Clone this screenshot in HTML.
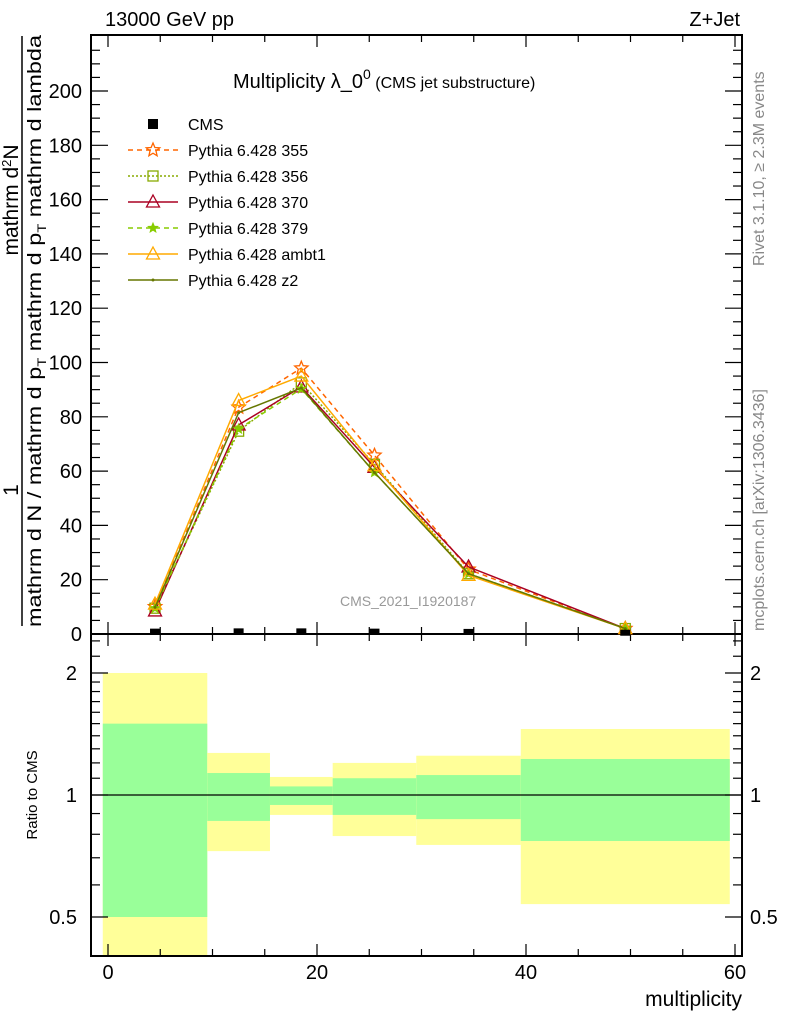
<!DOCTYPE html>
<html><head><meta charset="utf-8"><style>
body{margin:0;background:#fff;}
svg{display:block;font-family:"Liberation Sans",sans-serif;}
</style></head><body>
<svg id="chart" width="786" height="1024" viewBox="0 0 786 1024">
<g id="bands"></g>
<g id="axes"></g>
<g id="series"></g>
<text x="105" y="26" font-size="20">13000 GeV pp</text>
<text x="740" y="26" font-size="20" text-anchor="end">Z+Jet</text>
<text x="233" y="88" font-size="20">Multiplicity λ_0<tspan dy="-9" font-size="14">0</tspan><tspan dy="9" font-size="16"> (CMS jet substructure)</tspan></text>
<text x="340" y="606" font-size="14" fill="#999">CMS_2021_I1920187</text>
<text transform="translate(764,266) rotate(-90)" font-size="16" fill="#888">Rivet 3.1.10, ≥ 2.3M events</text>
<text transform="translate(764,631) rotate(-90)" font-size="16" fill="#888">mcplots.cern.ch [arXiv:1306.3436]</text>
<g font-size="19">
<text transform="translate(18,200) rotate(-90)" text-anchor="middle" font-size="21">mathrm d<tspan dy="-7" font-size="13">2</tspan><tspan dy="7">N</tspan></text>
<text transform="translate(18,490) rotate(-90)" text-anchor="middle" font-size="21">1</text>
<line x1="22" y1="36" x2="22" y2="626" stroke="#000" stroke-width="1.5"/>
<text transform="translate(41,627) rotate(-90)" textLength="592" lengthAdjust="spacingAndGlyphs">mathrm d N / mathrm d p<tspan dy="5" font-size="12">T</tspan><tspan dy="-5"> mathrm d p</tspan><tspan dy="5" font-size="12">T</tspan><tspan dy="-5"> mathrm d lambda</tspan></text>
</g>
<text transform="translate(37,795) rotate(-90)" font-size="15" text-anchor="middle">Ratio to CMS</text>
<text x="742" y="1006" font-size="21" text-anchor="end">multiplicity</text>
<g id="legend"></g>
</svg>
<script>
const categories = [4.5, 12.5, 18.5, 25.5, 34.5, 49.5];
const cmsValues = [0.5, 0.6, 0.6, 0.5, 0.4, 0.1];
const p355 = [10, 83.5, 97.9, 65.8, 23.8, 2];
const p356 = [9.5, 74.7, 92.5, 62.5, 22.2, 2];
const p370 = [8.5, 77, 91, 61.4, 24.7, 2];
const p379 = [9.5, 75.5, 90.3, 59.5, 22.2, 2];
const pambt1 = [11, 86, 95, 62, 21.6, 2];
const pz2 = [9.8, 81.5, 90.6, 59.5, 22.2, 2];
const binEdges = [-0.5, 9.5, 15.5, 21.5, 29.5, 39.5, 59.5];
const yellowHi = [2.0, 1.27, 1.108, 1.2, 1.25, 1.455];
const yellowLo = [0.35, 0.727, 0.893, 0.792, 0.753, 0.538];
const greenHi = [1.5, 1.133, 1.05, 1.10, 1.12, 1.227];
const greenLo = [0.5, 0.863, 0.945, 0.893, 0.872, 0.77];
const yTicks = [0, 20, 40, 60, 80, 100, 120, 140, 160, 180, 200];
const xTicks = [0, 20, 40, 60];
const rTicks = [0.5, 1, 2];

const NS = "http://www.w3.org/2000/svg";
const L = 91, R = 742, T = 35, B = 634, RT = 634, RB = 956;
const X = v => 108 + v * 10.45;
const Y = v => 634 - v * 2.715;
const RY = v => 795 - Math.log2(v) * 122;
function el(tag, attrs, parent) {
  const e = document.createElementNS(NS, tag);
  for (const k in attrs) e.setAttribute(k, attrs[k]);
  parent.appendChild(e); return e;
}
const axes = document.getElementById('axes');
const bands = document.getElementById('bands');
const series = document.getElementById('series');
const legend = document.getElementById('legend');

for (let i = 0; i < yellowHi.length; i++) {
  const x1 = X(binEdges[i]), x2 = X(binEdges[i + 1]);
  const yt = Math.max(RT, RY(yellowHi[i])), yb = Math.min(RB, RY(yellowLo[i]));
  const y = el('rect', {x: x1, y: yt, width: x2 - x1, height: yb - yt, fill: '#ffff99'}, bands);
  
  
  const gt = RY(greenHi[i]), gb = RY(greenLo[i]);
  const g = el('rect', {x: x1, y: gt, width: x2 - x1, height: gb - gt, fill: '#99ff99'}, bands);
  
  
}
const one = el('line', {x1: L, x2: R, y1: RY(1), y2: RY(1), stroke: '#000', 'stroke-width': 1.2}, bands);



for (const [t, b, n] of [[T, B, 'main-frame'], [RT, RB, 'ratio-frame']]) {
  const f = el('rect', {x: L, y: t, width: R - L, height: b - t, fill: 'none', stroke: '#000', 'stroke-width': 2}, axes);
  
  
}
for (let v = 0; v <= 60; v += 5) {
  const major = v % 20 === 0, len = major ? 12 : 7;
  for (const [t, b] of [[T, B], [RT, RB]]) {
    el('line', {x1: X(v), x2: X(v), y1: b, y2: b - len, stroke: '#000', 'stroke-width': 1.2}, axes);
    el('line', {x1: X(v), x2: X(v), y1: t, y2: t + len, stroke: '#000', 'stroke-width': 1.2}, axes);
  }
}
xTicks.forEach(v => {
  const t = el('text', {x: X(v), y: 979, 'font-size': 20, 'text-anchor': 'middle'}, axes);
  t.textContent = v;
  
  
});
for (let v = 0; v <= 215; v += 5) {
  const major = v % 20 === 0, len = major ? 17 : 9;
  el('line', {x1: L, x2: L + len, y1: Y(v), y2: Y(v), stroke: '#000', 'stroke-width': 1.2}, axes);
  el('line', {x1: R, x2: R - len, y1: Y(v), y2: Y(v), stroke: '#000', 'stroke-width': 1.2}, axes);
}
yTicks.forEach(v => {
  const t = el('text', {x: 82, y: Y(v) + 7, 'font-size': 20, 'text-anchor': 'end'}, axes);
  t.textContent = v;
  
  
});
const rMinor = [0.4, 0.6, 0.7, 0.8, 0.9, 1.1, 1.2, 1.3, 1.4, 1.5, 1.6, 1.7, 1.8, 1.9, 2.2, 2.4];
rMinor.forEach(v => {
  el('line', {x1: L, x2: L + 9, y1: RY(v), y2: RY(v), stroke: '#000', 'stroke-width': 1.2}, axes);
  el('line', {x1: R, x2: R - 9, y1: RY(v), y2: RY(v), stroke: '#000', 'stroke-width': 1.2}, axes);
});
rTicks.forEach(v => {
  el('line', {x1: L, x2: L + 17, y1: RY(v), y2: RY(v), stroke: '#000', 'stroke-width': 1.2}, axes);
  el('line', {x1: R, x2: R - 17, y1: RY(v), y2: RY(v), stroke: '#000', 'stroke-width': 1.2}, axes);
  const t = el('text', {x: 77, y: RY(v) + 7, 'font-size': 20, 'text-anchor': 'end'}, axes);
  t.textContent = v;
  
  
  const t2 = el('text', {x: 750, y: RY(v) + 7, 'font-size': 20}, axes);
  t2.textContent = v;
  
  
});

function star(cx, cy, r, color, fill, parent) {
  let p = '';
  for (let i = 0; i < 10; i++) {
    const a = -Math.PI / 2 + i * Math.PI / 5, rr = i % 2 ? r * 0.45 : r;
    p += (i ? 'L' : 'M') + (cx + rr * Math.cos(a)).toFixed(1) + ' ' + (cy + rr * Math.sin(a)).toFixed(1);
  }
  return el('path', {d: p + 'Z', fill: fill, stroke: color, 'stroke-width': 1.3}, parent);
}
function marker(kind, cx, cy, color, parent) {
  if (kind === 'star') return star(cx, cy, 7, color, 'none', parent);
  if (kind === 'smallstar') return star(cx, cy, 4.5, color, color, parent);
  if (kind === 'square') return el('rect', {x: cx - 5, y: cy - 5, width: 10, height: 10, fill: 'none', stroke: color, 'stroke-width': 1.3}, parent);
  if (kind === 'tri') return el('path', {d: `M${cx} ${cy - 7}L${cx + 6.5} ${cy + 5}L${cx - 6.5} ${cy + 5}Z`, fill: 'none', stroke: color, 'stroke-width': 1.3}, parent);
  if (kind === 'dot') return el('circle', {cx: cx, cy: cy, r: 1.5, fill: color}, parent);
}
const defs = [
  ['Pythia 6.428 355', p355, '#ff6600', '5,4', 'star', 'series-355'],
  ['Pythia 6.428 356', p356, '#88aa00', '2,2', 'square', 'series-356'],
  ['Pythia 6.428 370', p370, '#aa0022', '', 'tri', 'series-370'],
  ['Pythia 6.428 379', p379, '#88cc00', '5,4', 'smallstar', 'series-379'],
  ['Pythia 6.428 ambt1', pambt1, '#ffaa00', '', 'tri', 'series-ambt1'],
  ['Pythia 6.428 z2', pz2, '#667700', '', 'dot', 'series-z2']
];
defs.forEach(([name, vals, color, dash, mk, dn]) => {
  const g = el('g', {}, series);
  
  
  const pts = categories.map((c, i) => X(c).toFixed(1) + ',' + Y(vals[i]).toFixed(1)).join(' ');
  const line = el('polyline', {points: pts, fill: 'none', stroke: color, 'stroke-width': 1.5}, g);
  if (dash) line.setAttribute('stroke-dasharray', dash);
  categories.forEach((c, i) => marker(mk, X(c), Y(vals[i]), color, g));
});
const cg = el('g', {}, series);


categories.forEach((c, i) => {
  el('rect', {x: X(c) - 5, y: Y(cmsValues[i]) - 4, width: 10, height: 6, fill: '#000'}, cg);
});

const ly0 = 124, dy = 26;
const cmsLeg = el('g', {}, legend);


el('rect', {x: 148, y: ly0 - 5, width: 10, height: 10, fill: '#000'}, cmsLeg);
const ct = el('text', {x: 188, y: ly0 + 6, 'font-size': 16}, cmsLeg);
ct.textContent = 'CMS';
defs.forEach(([name, vals, color, dash, mk, dn], i) => {
  const y = ly0 + dy * (i + 1);
  const g = el('g', {}, legend);
  
  
  const l = el('line', {x1: 128, x2: 178, y1: y, y2: y, stroke: color, 'stroke-width': 1.5}, g);
  if (dash) l.setAttribute('stroke-dasharray', dash);
  marker(mk, 153, y, color, g);
  const t = el('text', {x: 188, y: y + 6, 'font-size': 16}, g);
  t.textContent = name;
});
</script>
</body></html>
